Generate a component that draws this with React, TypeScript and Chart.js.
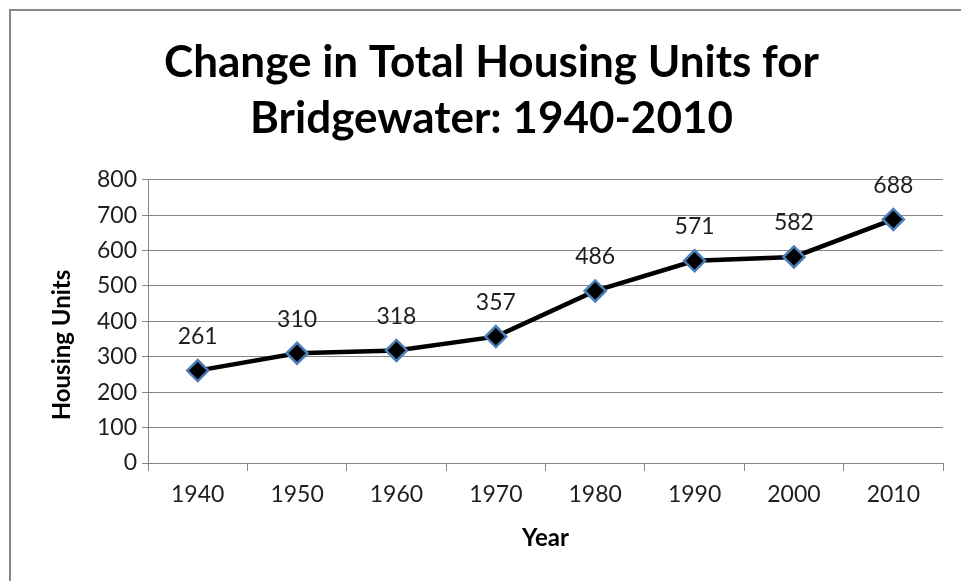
import React, { useEffect, useRef } from "react";
import { Chart, registerables } from "chart.js";

Chart.register(...registerables);

const years = ["1940", "1950", "1960", "1970", "1980", "1990", "2000", "2010"];
const housingUnits = [261, 310, 318, 357, 486, 571, 582, 688];
const titleLines = ["Change in Total Housing Units for", "Bridgewater: 1940-2010"];
const yAxisTitle = "Housing Units";
const xAxisTitle = "Year";

const FONT = "Lato, 'Open Sans', sans-serif";
const GRID = "#868686";
const TEXT = "#1e1e1e";

const frameAndLabels = {
  id: "frameAndLabels",
  beforeDraw(chart: any) {
    const ctx = chart.ctx;
    ctx.save();
    ctx.fillStyle = "#ffffff";
    ctx.fillRect(0, 0, chart.width, chart.height);
    ctx.fillStyle = "#878787";
    ctx.fillRect(9, 9, chart.width, 2);
    ctx.fillRect(9, 9, 2, chart.height);
    ctx.restore();
  },
  afterDraw(chart: any) {
    const ctx = chart.ctx;
    ctx.save();
    ctx.font = `bold 24px ${FONT}`;
    ctx.fillStyle = "#000000";
    ctx.textAlign = "center";
    ctx.textBaseline = "middle";
    ctx.translate(62, 345);
    ctx.rotate(-Math.PI / 2);
    ctx.fillText(yAxisTitle, 0, 0);
    ctx.restore();
  },
  afterDatasetsDraw(chart: any) {
    const ctx = chart.ctx;
    const meta = chart.getDatasetMeta(0);
    const data = chart.data.datasets[0].data;
    ctx.save();
    ctx.font = `23px ${FONT}`;
    ctx.fillStyle = TEXT;
    ctx.textAlign = "center";
    ctx.textBaseline = "middle";
    meta.data.forEach((pt: any, i: number) => {
      ctx.fillText(String(data[i]), pt.x, pt.y - 34);
    });
    ctx.restore();
  },
};

export default function App() {
  const ref = useRef<HTMLCanvasElement | null>(null);
  useEffect(() => {
    if (!ref.current) return;
    const chart = new Chart(ref.current, {
      type: "line",
      data: {
        labels: years,
        datasets: [
          {
            data: housingUnits,
            borderColor: "#000000",
            borderWidth: 4.5,
            pointStyle: "rectRot",
            pointRadius: 10.5,
            pointBackgroundColor: "#000000",
            pointBorderColor: "#4a7ebb",
            pointBorderWidth: 2.5,
            tension: 0,
          },
        ],
      },
      plugins: [frameAndLabels],
      options: {
        responsive: false,
        animation: false,
        layout: { padding: { left: 40, right: 18, top: 10, bottom: 20 } },
        plugins: {
          legend: { display: false },
          tooltip: { enabled: false },
          title: {
            display: true,
            text: titleLines,
            color: "#000000",
            font: { family: FONT, size: 44, weight: "bold", lineHeight: 1.27 },
            padding: { top: 25, bottom: 33 },
          },
        },
        scales: {
          x: {
            offset: true,
            grid: { offset: true, drawOnChartArea: false, drawTicks: true, tickLength: 8, color: GRID },
            border: { display: true, color: GRID, width: 1 },
            ticks: { color: TEXT, font: { family: FONT, size: 23 }, padding: 10, maxRotation: 0 },
            title: {
              display: true,
              text: xAxisTitle,
              color: "#000000",
              font: { family: FONT, size: 24, weight: "bold", lineHeight: 1.2 },
              padding: { top: 0, bottom: 8 },
            },
            afterFit(scale: any) {
              scale.height = 98;
            },
          },
          y: {
            min: 0,
            max: 800,
            ticks: { stepSize: 100, color: TEXT, font: { family: FONT, size: 23 }, padding: 5 },
            grid: { color: GRID, tickLength: 6, drawTicks: true },
            border: { display: true, color: GRID, width: 1 },
            title: { display: false },
            afterFit(scale: any) {
              scale.width = 108;
            },
          },
        },
      },
    } as any);
    return () => chart.destroy();
  }, []);
  return (
    <canvas
      ref={ref}
      width={961}
      height={581}
      style={{ position: "fixed", left: 0, top: 0, width: 961, height: 581, display: "block" }}
    />
  );
}
